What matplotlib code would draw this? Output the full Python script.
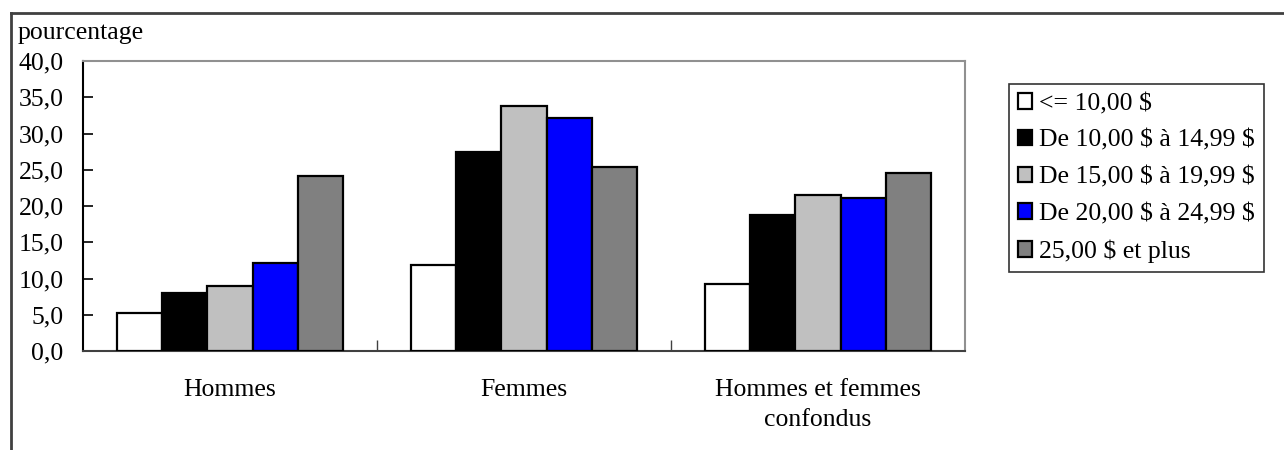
import numpy as np
import matplotlib.pyplot as plt
from matplotlib.lines import Line2D

plt.rcParams['font.family'] = ['Liberation Serif', 'DejaVu Serif']

# --- Données ---
categories = ['Hommes', 'Femmes', 'Hommes et femmes\nconfondus']
series_labels = [r'<= 10,00 \$', r'De 10,00 \$ à 14,99 \$', r'De 15,00 \$ à 19,99 \$',
                 r'De 20,00 \$ à 24,99 \$', r'25,00 \$ et plus']
le_10 = [5.3, 11.9, 9.3]
de_10_15 = [8.0, 27.5, 18.8]
de_15_20 = [8.9, 33.8, 21.5]
de_20_25 = [12.2, 32.2, 21.1]
plus_25 = [24.1, 25.4, 24.6]
yticks = [0, 5, 10, 15, 20, 25, 30, 35, 40]

series = [le_10, de_10_15, de_15_20, de_20_25, plus_25]
colors = ['white', 'black', '#c0c0c0', '#0000ff', '#808080']
FS = 18.5

fig = plt.figure(figsize=(12.84, 4.5), dpi=100)
ax = fig.add_axes([83/1284, 1 - 351/450, (965 - 83)/1284, (351 - 61)/450])

x = np.arange(len(categories))
w = 0.154
for i, (vals, c) in enumerate(zip(series, colors)):
    ax.bar(x + (i - 2) * w, vals, width=w, color=c, edgecolor='black',
           linewidth=1.6, label=series_labels[i], zorder=3)

ax.set_xlim(-0.5, 2.5)
ax.set_ylim(0, 40)
ax.set_yticks(yticks)
ax.set_yticklabels([f'{v:.1f}'.replace('.', ',') for v in yticks], fontsize=FS)
ax.tick_params(axis='y', direction='in', length=7, width=1.2, pad=14)

# graduations de l'axe X aux limites des catégories
ax.set_xticks([0.5, 1.5], minor=True)
ax.tick_params(axis='x', which='minor', direction='in', length=8, width=1, color='#404040')
ax.set_xticks(x)
ax.set_xticklabels(categories, fontsize=FS, linespacing=1.5, va='top')
ax.tick_params(axis='x', which='major', length=0, pad=20)

ax.spines['left'].set_color('black')
ax.spines['left'].set_linewidth(1.5)
ax.spines['bottom'].set_color('#404040')
ax.spines['bottom'].set_linewidth(1.5)
for s in ['top', 'right']:
    ax.spines[s].set_color('#909090')
    ax.spines[s].set_linewidth(1.5)

fig.text(18/1284, 1 - 39/450, 'pourcentage', fontsize=FS, va='baseline', ha='left')

leg = fig.legend(loc='upper left', bbox_to_anchor=(1009/1284, 1 - 84/450),
                 fontsize=FS, frameon=True, fancybox=False, edgecolor='black',
                 handlelength=0.55, handleheight=0.55, handletextpad=0.27,
                 labelspacing=0.57, borderpad=0.35, borderaxespad=0)
leg.get_frame().set_linewidth(1.2)

# cadre de la figure (haut et gauche)
fig.add_artist(Line2D([11/1284, 1], [1 - 13/450, 1 - 13/450], color='#404040', lw=2,
                      transform=fig.transFigure))
fig.add_artist(Line2D([11/1284, 11/1284], [0, 1 - 13/450], color='#404040', lw=2,
                      transform=fig.transFigure))

fig.savefig('out.png', dpi=100)
